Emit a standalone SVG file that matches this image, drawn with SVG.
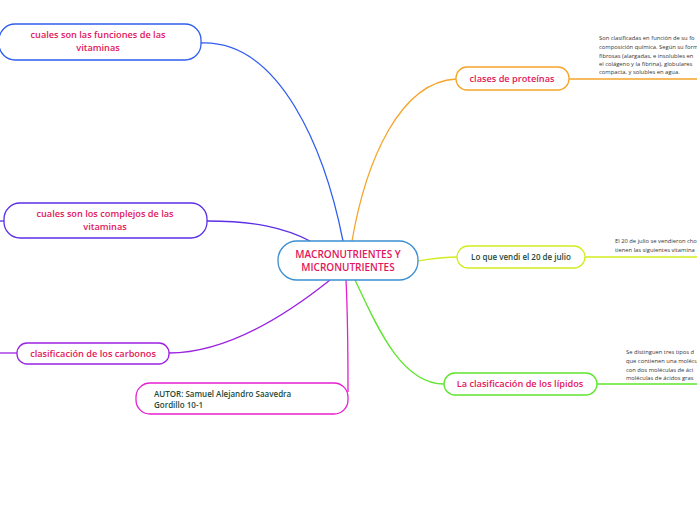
<svg xmlns="http://www.w3.org/2000/svg" width="697" height="520" viewBox="0 0 697 520">
<style>
.box{fill:#fff;stroke-width:1.3}
.t{font-family:"Open Sans","Noto Sans",sans-serif;font-weight:600;font-size:9.2px;fill:#e3165b;text-anchor:middle}
.g{fill:#1d4a38}
.s{font-family:"Open Sans","Noto Sans",sans-serif;font-size:5.8px;fill:#333}
.c{fill:none;stroke-width:1.3}
</style>
<rect width="697" height="520" fill="#fff"/>
<g id="connectors">
<path class="c" stroke="#2f5df0" d="M201,43 C280,40 325,150 343,241"/>
<path class="c" stroke="#5b2fe6" d="M207,221 C255,221 285,228 310,241"/>
<path class="c" stroke="#5b2fe6" d="M0,221 L4,221"/>
<path class="c" stroke="#9b22e3" d="M169,353 C230,353 290,312 330,280"/>
<path class="c" stroke="#9b22e3" d="M0,353 L17,353"/>
<path class="c" stroke="#e51fd2" d="M346,280 C348,320 348,360 348,392"/>
<path class="c" stroke="#f5a52a" d="M456,79 C400,82 366,160 352,241"/>
<path class="c" stroke="#d2ec1e" d="M457,257 C440,257 432,259 418,261"/>
<path class="c" stroke="#5de52c" d="M444,384 C400,384 375,322 355,280"/>
<path class="c" stroke="#f5a52a" d="M569,79 L697,79"/>
<path class="c" stroke="#d2ec1e" d="M585,257 L697,257"/>
<path class="c" stroke="#5de52c" d="M597,384 L697,384"/>
</g>
<g id="central">
<rect class="box" x="278" y="241" width="140" height="39" rx="19" stroke="#3b8fd2"/>
<text class="t" x="348" y="258" style="font-size:10px">MACRONUTRIENTES Y</text>
<text class="t" x="348" y="271" style="font-size:10px">MICRONUTRIENTES</text>
</g>
<g id="n-funciones">
<rect class="box" x="-1" y="24" width="202" height="36" rx="16" stroke="#2f5df0"/>
<text class="t" x="98" y="38">cuales son las funciones de las</text>
<text class="t" x="98" y="51">vitaminas</text>
</g>
<g id="n-complejos">
<rect class="box" x="4" y="203" width="203" height="35" rx="16" stroke="#5b2fe6"/>
<text class="t" x="105" y="217">cuales son los complejos de las</text>
<text class="t" x="105" y="230">vitaminas</text>
</g>
<g id="n-carbonos">
<rect class="box" x="17" y="343" width="152" height="21" rx="10" stroke="#9b22e3"/>
<text class="t" x="93" y="357">clasificación de los carbonos</text>
</g>
<g id="n-autor">
<rect class="box" x="136" y="383" width="212" height="31" rx="14" stroke="#e51fd2"/>
<text class="t g" x="154" y="397" style="text-anchor:start;font-size:8px">AUTOR: Samuel Alejandro Saavedra</text>
<text class="t g" x="154" y="408" style="text-anchor:start;font-size:8px">Gordillo 10-1</text>
</g>
<g id="n-proteinas">
<rect class="box" x="456" y="67" width="113" height="23" rx="11" stroke="#f5a52a"/>
<text class="t" x="512" y="82">clases de proteínas</text>
<text class="s" x="599" y="40">Son clasificadas en función de su fo</text>
<text class="s" x="599" y="49">composición química. Según su form</text>
<text class="s" x="599" y="58">fibrosas (alargadas, e insolubles en</text>
<text class="s" x="599" y="66">el colágeno y la fibrina), globulares</text>
<text class="s" x="599" y="74">compacta, y solubles en agua.</text>
</g>
<g id="n-julio">
<rect class="box" x="457" y="246" width="128" height="22" rx="11" stroke="#d2ec1e"/>
<text class="t g" x="521" y="260" style="font-size:8px">Lo que vendi el 20 de julio</text>
<text class="s" x="615" y="243">El 20 de julio se vendieron cho</text>
<text class="s" x="615" y="252">tienen las siguientes vitamina</text>
</g>
<g id="n-lipidos">
<rect class="box" x="444" y="373" width="153" height="22" rx="11" stroke="#5de52c"/>
<text class="t" x="520" y="387">La clasificación de los lípidos</text>
<text class="s" x="626" y="354">Se distinguen tres tipos d</text>
<text class="s" x="626" y="363">que contienen una molécu</text>
<text class="s" x="626" y="372">con dos moléculas de áci</text>
<text class="s" x="626" y="380">moléculas de ácidos gras</text>
</g>
</svg>
